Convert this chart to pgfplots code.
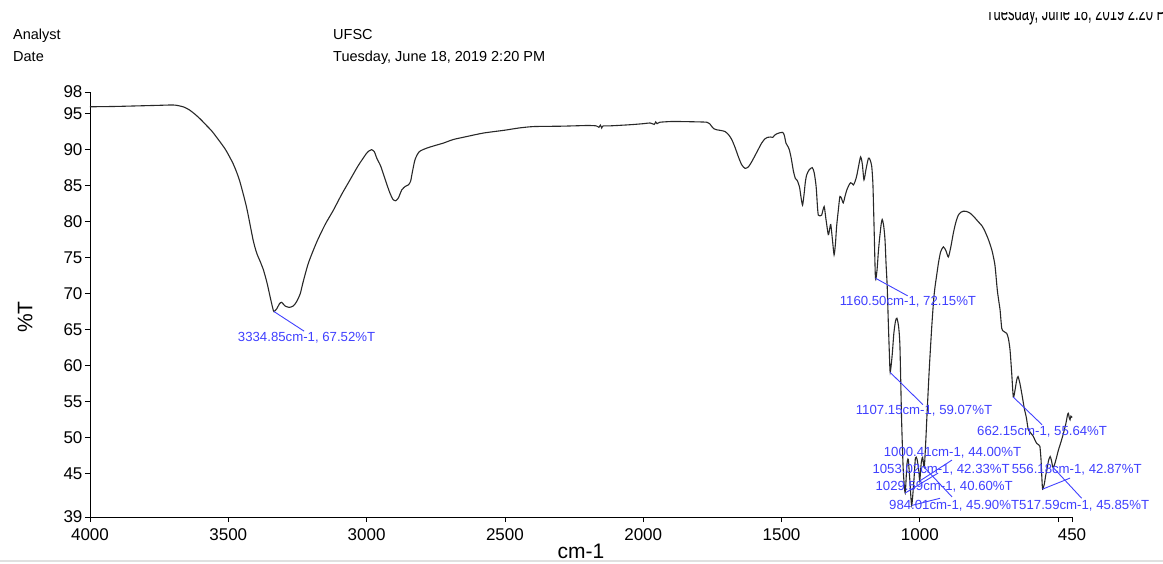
\documentclass[border=0pt]{standalone}
\usepackage{fontspec}
\setmainfont{Liberation Sans}
\usepackage{pgfplots}
\pgfplotsset{compat=1.18}

\definecolor{annot}{RGB}{64,64,255}
\definecolor{trace}{RGB}{40,40,40}

\begin{document}
\begin{tikzpicture}
% header block
\node[anchor=base west,font=\fontsize{14.5}{16}\selectfont,inner sep=0] at (13pt,523pt) {Analyst};
\node[anchor=base west,font=\fontsize{14.5}{16}\selectfont,inner sep=0] at (13pt,501pt) {Date};
\node[anchor=base west,font=\fontsize{14.5}{16}\selectfont,inner sep=0] at (333pt,523pt) {UFSC};
\node[anchor=base west,font=\fontsize{14.5}{16}\selectfont,inner sep=0] at (333pt,501pt) {Tuesday, June 18, 2019 2:20 PM};
\begin{scope}
  \clip (900pt,530pt) rectangle (1163pt,550pt);
  \node[anchor=base west,font=\fontsize{13}{15}\selectfont,inner sep=0,yscale=1.7,transform shape] at (986pt,542pt) {Tuesday, June 18, 2019 2:20 PM};
\end{scope}
\draw[black!12, line width=1.2pt] (0pt,2pt) -- (1163pt,2pt);

\begin{axis}[
  at={(90pt,46pt)}, anchor=south west,
  scale only axis, width=982pt, height=425pt,
  x dir=reverse,
  xmin=450, xmax=4000, ymin=39, ymax=98,
  axis x line*=bottom, axis y line*=left,
  axis line style={black, line width=0.9pt, -},
  xtick={4000,3500,3000,2500,2000,1500,1000,500,450},
  xticklabels={4000,3500,3000,2500,2000,1500,1000,,450},
  ytick={39,45,50,55,60,65,70,75,80,85,90,95,98},
  yticklabels={39,45,50,55,60,65,70,75,80,85,90,95,98},
  tick align=outside, major tick length=5pt,
  tick style={black, line width=0.8pt},
  /pgf/number format/assume math mode=true,
  ticklabel style={font=\fontsize{17}{19}\selectfont},
  xticklabel style={yshift=-3pt},
  yticklabel style={xshift=1pt},
  xlabel={cm-1},
  xlabel style={font=\fontsize{21}{23}\selectfont, at={(axis description cs:0.5,-0.08)}, anchor=center},
  ylabel={\%T},
  ylabel style={font=\fontsize{21}{23}\selectfont, at={(axis description cs:-0.066,0.47)}, anchor=center},
  clip=false,
]
\addplot[trace, line width=1.1pt, smooth, tension=0.4] table {
4000 95.95
3950 95.97
3900 96.0
3850 96.05
3800 96.1
3750 96.15
3700 96.2
3680 96.1
3660 95.9
3640 95.5
3620 94.9
3600 94.2
3580 93.4
3560 92.6
3540 91.6
3510 90.0
3482 88.0
3460 85.8
3434 82.0
3410 77.4
3397 75.6
3385 74.5
3373 73.3
3360 71.5
3349 69.6
3340 68.1
3335 67.52
3325 67.9
3315 68.6
3307 68.8
3295 68.3
3280 68.1
3265 68.3
3253 68.9
3240 70.0
3229 71.7
3210 74.3
3180 77.2
3150 79.6
3120 81.6
3090 83.8
3060 85.8
3030 87.8
3000 89.5
2990 89.85
2982 90.0
2972 89.7
2963 88.8
2950 87.8
2940 86.7
2928 85.3
2916 84.0
2905 83.1
2895 82.9
2885 83.3
2873 84.4
2860 84.9
2849 85.1
2841 85.6
2835 86.8
2825 88.6
2810 89.7
2783 90.2
2750 90.6
2723 90.9
2687 91.4
2640 91.8
2578 92.3
2500 92.7
2450 93.0
2397 93.2
2300 93.25
2250 93.3
2200 93.35
2170 93.3
2160 93.1
2155 93.4
2150 93.0
2145 93.3
2120 93.3
2050 93.45
2000 93.6
1975 93.7
1960 93.5
1955 93.85
1950 93.6
1940 93.8
1900 93.9
1867 93.9
1800 93.85
1770 93.8
1760 93.6
1752 93.2
1745 92.9
1734 92.75
1718 92.65
1704 92.5
1692 92.1
1680 91.4
1668 90.3
1656 89.0
1644 87.9
1632 87.4
1620 87.6
1608 88.3
1590 89.6
1572 90.9
1560 91.5
1551 91.7
1540 91.75
1532 91.7
1525 92.0
1517 92.2
1505 92.35
1496 92.4
1490 92.0
1484 90.9
1478 90.5
1472 90.0
1465 88.8
1457 87.0
1450 86.0
1443 85.7
1435 84.8
1430 83.5
1424 82.3
1418 84.0
1414 85.5
1409 86.5
1400 87.2
1389 87.5
1382 86.8
1375 84.9
1370 82.0
1367 80.9
1361 80.8
1355 80.9
1346 82.1
1340 80.5
1331 78.2
1326 79.0
1322 79.6
1316 77.5
1310 75.4
1305 77.0
1301 79.3
1295 81.5
1289 83.5
1283 83.2
1277 82.6
1270 83.6
1264 84.4
1256 85.1
1250 85.4
1245 85.3
1240 85.1
1234 85.6
1228 86.4
1220 88.0
1214 89.0
1208 88.0
1202 85.8
1195 87.2
1186 88.8
1180 88.6
1174 87.7
1170 85.5
1168 83.0
1165 78.5
1160.5 72.15
1155 73.2
1150 75.8
1146 77.5
1140 79.6
1136 80.3
1131 79.5
1126 77.5
1122 74.0
1118 71.0
1114 66.0
1110 61.5
1107.15 59.07
1100 61.5
1094 64.5
1088 66.2
1083 66.6
1077 65.5
1072 62.7
1066 52.5
1060 45.5
1053.02 42.33
1047 46.2
1042 47.0
1036 44.0
1029.59 40.6
1022 43.8
1016 47.2
1010 47.0
1004 45.5
1000.41 44.0
995 46.5
990 47.3
984.01 45.9
978 50.0
975 52.5
966 59.5
957 65.4
950 69.2
945 71.0
939 72.6
933 74.2
925 75.8
915 76.5
906 76.0
897 75.1
888 76.5
879 78.4
870 79.9
861 80.9
852 81.3
843 81.45
830 81.4
819 81.2
805 80.7
789 80.0
775 79.4
764 78.6
752 77.5
740 76.1
734 75.1
728 73.8
720 70.5
714 68.8
710 67.75
704 65.2
698 64.8
690 64.6
686 64.5
680 63.8
674 62.2
668 59.0
662.15 55.64
656 56.6
650 58.0
645 58.5
638 57.5
630 55.8
622 54.0
615 52.8
608 51.1
600 50.7
590 50.2
583 49.6
577 49.2
570 49.0
566 48.8
562 47.0
559 44.5
556.18 42.87
550 43.6
545 44.8
541 45.5
535 46.8
529 47.4
524 46.8
520 46.0
517.59 45.85
512 46.4
505 47.4
499 48.3
490 49.4
481 50.6
472 52.0
466 53.2
463 53.4
460 52.8
457 52.5
454 53.0
451 52.9
450 52.8
};

% peak labels with leader lines
\begin{scope}[annot, line width=0.9pt]
\draw (3334.85,67.52) -- (3226,64.8);
\draw (1160.50,72.15) -- (1044,69.7);
\draw (1107.15,59.07) -- (989,54.6);
\draw (662.15,55.64) -- (558,51.8);
\draw (1000.41,44.00) -- (884,46.9);
\draw (1053.02,42.33) -- (934,45.1);
\draw (1029.59,40.60) -- (927,41.6);
\draw (984.01,45.90) -- (884,41.8);
\draw (556.18,42.87) -- (457,44.4);
\draw (517.59,45.85) -- (415,41.6);
\end{scope}
\begin{scope}[every node/.style={annot, font=\fontsize{13.2}{15}\selectfont, inner sep=0, anchor=center}]
\node at (3217,63.9) {3334.85cm-1, 67.52\%T};
\node at (1043,68.9) {1160.50cm-1, 72.15\%T};
\node at (985,53.7) {1107.15cm-1, 59.07\%T};
\node at (558,50.9) {662.15cm-1, 55.64\%T};
\node at (882,47.9) {1000.41cm-1, 44.00\%T};
\node at (923,45.5) {1053.02cm-1, 42.33\%T};
\node at (433,45.5) {556.18cm-1, 42.87\%T};
\node at (912,43.2) {1029.59cm-1, 40.60\%T};
\node at (876,40.5) {984.01cm-1, 45.90\%T};
\node at (406,40.5) {517.59cm-1, 45.85\%T};
\end{scope}
\end{axis}
\pgfresetboundingbox
\useasboundingbox (0pt,0pt) rectangle (1163pt,563pt);
\end{tikzpicture}
\end{document}
